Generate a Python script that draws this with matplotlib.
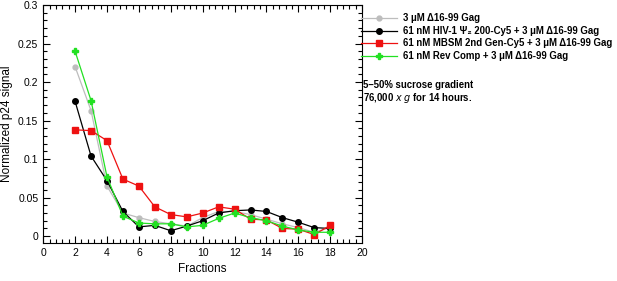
import matplotlib
matplotlib.use("Agg")
import matplotlib.pyplot as plt
from matplotlib.ticker import MultipleLocator

plt.rcParams['font.family'] = ['Liberation Sans', 'DejaVu Sans']

# fractions collected from the gradient
fractions = list(range(2, 19))

gag_only = [0.220, 0.163, 0.065, 0.030, 0.024, 0.019, 0.016, 0.013, 0.024,
            0.032, 0.032, 0.028, 0.022, 0.016, 0.011, 0.005, 0.011]
hiv_psi2 = [0.175, 0.104, 0.072, 0.032, 0.012, 0.014, 0.007, 0.013, 0.020,
            0.030, 0.033, 0.034, 0.032, 0.024, 0.018, 0.011, 0.010]
mbsm_2nd = [0.138, 0.137, 0.124, 0.074, 0.065, 0.038, 0.028, 0.025, 0.030,
            0.038, 0.035, 0.022, 0.021, 0.010, 0.009, 0.002, 0.014]
rev_comp = [0.240, 0.176, 0.077, 0.026, 0.017, 0.016, 0.016, 0.012, 0.014,
            0.023, 0.030, 0.024, 0.020, 0.013, 0.008, 0.005, 0.005]

labels = ["3 \u03bcM \u039416-99 Gag",
          "61 nM HIV-1 \u03a8\u2082 200-Cy5 + 3 \u03bcM \u039416-99 Gag",
          "61 nM MBSM 2nd Gen-Cy5 + 3 \u03bcM \u039416-99 Gag",
          "61 nM Rev Comp + 3 \u03bcM \u039416-99 Gag"]


def main():
    fig = plt.figure(figsize=(6.17, 2.81), dpi=100)
    ax = fig.add_axes([0.070, 0.135, 0.517, 0.847])

    ax.plot(fractions, gag_only, color="#bdbdbd", marker="o", markersize=3.5,
            linewidth=0.9, label=labels[0])
    ax.plot(fractions, hiv_psi2, color="black", marker="o", markersize=4,
            linewidth=0.9, label=labels[1])
    ax.plot(fractions, mbsm_2nd, color="#ee1111", marker="s", markersize=5,
            linewidth=0.9, label=labels[2])
    ax.plot(fractions, rev_comp, color="#22e022", marker="P", markersize=4,
            linewidth=0.9, label=labels[3])

    ax.set_xlim(0, 20)
    ax.set_ylim(-0.009, 0.3)
    ax.xaxis.set_major_locator(MultipleLocator(2))
    ax.xaxis.set_minor_locator(MultipleLocator(0.4))
    ax.yaxis.set_major_locator(MultipleLocator(0.05))
    ax.yaxis.set_minor_locator(MultipleLocator(0.01))
    ax.set_yticks([0, 0.05, 0.1, 0.15, 0.2, 0.25, 0.3])
    ax.set_yticklabels(["0", "0.05", "0.1", "0.15", "0.2", "0.25", "0.3"])
    ax.tick_params(which="both", direction="in", top=True, right=True,
                   labelsize=7.5, width=0.8)
    ax.tick_params(which="major", length=5)
    ax.tick_params(which="minor", length=3)
    for s in ax.spines.values():
        s.set_linewidth(0.8)

    ax.set_xlabel("Fractions", fontsize=8.5)
    ax.set_ylabel("Normalized p24 signal", fontsize=8.5)

    fig.legend(loc="upper left", bbox_to_anchor=(0.575, 0.976), frameon=False,
               handlelength=3.7, labelspacing=0.26,
               handletextpad=0.6, borderpad=0.2,
               prop={"size": 6.9, "weight": "bold"})

    fig.text(0.588, 0.697, "5\u201350% sucrose gradient", fontsize=6.9,
             fontweight="bold", va="center")
    fig.text(0.588, 0.651, r"76,000 $\mathit{x\ g}$ for 14 hours.", fontsize=6.9,
             fontweight="bold", va="center")

    fig.savefig("out.png", dpi=100)


if __name__ == "__main__":
    main()
